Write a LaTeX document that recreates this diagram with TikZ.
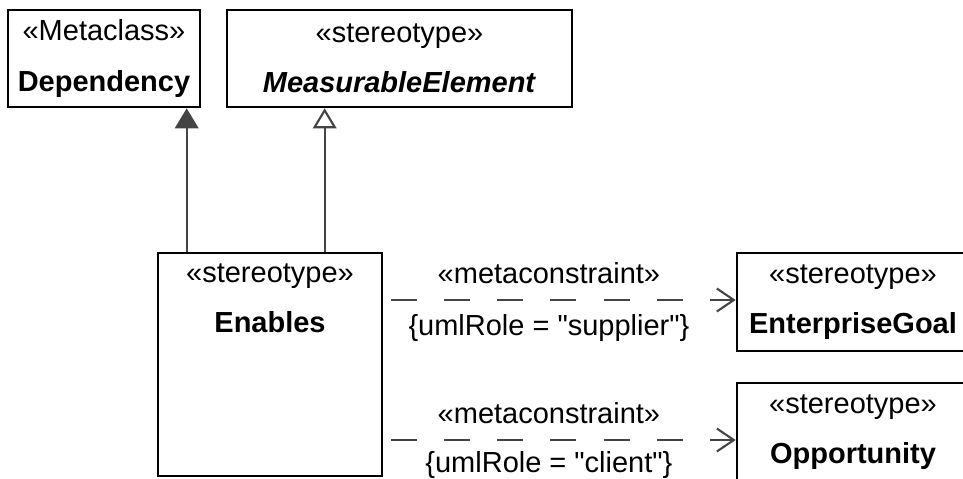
\documentclass[tikz,border=0pt]{standalone}
\usepackage{fontspec}
\setmainfont{Liberation Sans}
\usetikzlibrary{arrows.meta}
\definecolor{linegray}{RGB}{68,68,68}

\begin{document}
\begin{tikzpicture}[x=0.02cm, y=-0.02cm,
    every node/.style={font=\fontsize{16.5}{28.5}\selectfont},
    box/.style={rectangle, draw=black, line width=1.5pt, align=center, inner sep=0pt},
    gen/.style={line width=1.2pt, draw=linegray, -{Triangle[length=0.4cm, width=0.47cm, fill=linegray]}},
    genopen/.style={line width=1.2pt, draw=linegray, -{Triangle[open, length=0.4cm, width=0.47cm, fill=white]}},
    mc/.style={line width=1.2pt, draw=linegray, dash pattern=on 14.8pt off 15.4pt, shorten <=0.16cm, -{Straight Barb[length=0.34cm, width=0.46cm]}},
    lbl/.style={anchor=base, inner sep=0pt}
]
    \useasboundingbox (0,0) rectangle (963,478);
    \clip (0,0) rectangle (963,478);

    \node[box, minimum width=3.84cm, minimum height=1.94cm] (dep)  at (104,58.5)  {«Metaclass»\\\textbf{Dependency}};
    \node[box, minimum width=6.9cm, minimum height=1.94cm]  (meas) at (399.5,58.5) {«stereotype»\\\textbf{\textit{MeasurableElement}}};
    \node[box, minimum width=4.48cm, minimum height=4.46cm] (enables) at (270,364.5) {};
    \node[anchor=north, align=center, inner sep=0pt] (enablestitle) at (270,263) {«stereotype»\\\textbf{Enables}};
    \node[box, minimum width=4.64cm, minimum height=1.96cm] (goal) at (853,302) {«stereotype»\\\textbf{EnterpriseGoal}};
    \node[box, minimum width=4.64cm, minimum height=1.96cm] (opp)  at (853,432) {«stereotype»\\\textbf{Opportunity}};

    \draw[gen] ([xshift=0.6cm]enables.north west) -- ([xshift=0.6cm]enables.north west |- dep.south);
    \draw[genopen] ([xshift=3.36cm]enables.north west) -- ([xshift=3.36cm]enables.north west |- meas.south);

    \draw[mc] ([yshift=0.04cm]enables.east |- goal.west) -- ([yshift=0.04cm]goal.west)
        node[lbl, pos=0.47, yshift=0.34cm] (mc1) {«metaconstraint»}
        node[lbl, pos=0.47, yshift=-0.7cm] (role1) {\{umlRole = \textquotedbl supplier\textquotedbl\}};
    \draw[mc] ([yshift=-0.16cm]enables.east |- opp.west) -- ([yshift=-0.16cm]opp.west)
        node[lbl, pos=0.47, yshift=0.34cm] (mc2) {«metaconstraint»}
        node[lbl, pos=0.47, yshift=-0.65cm] (role2) {\{umlRole = \textquotedbl client\textquotedbl\}};
\end{tikzpicture}
\end{document}
